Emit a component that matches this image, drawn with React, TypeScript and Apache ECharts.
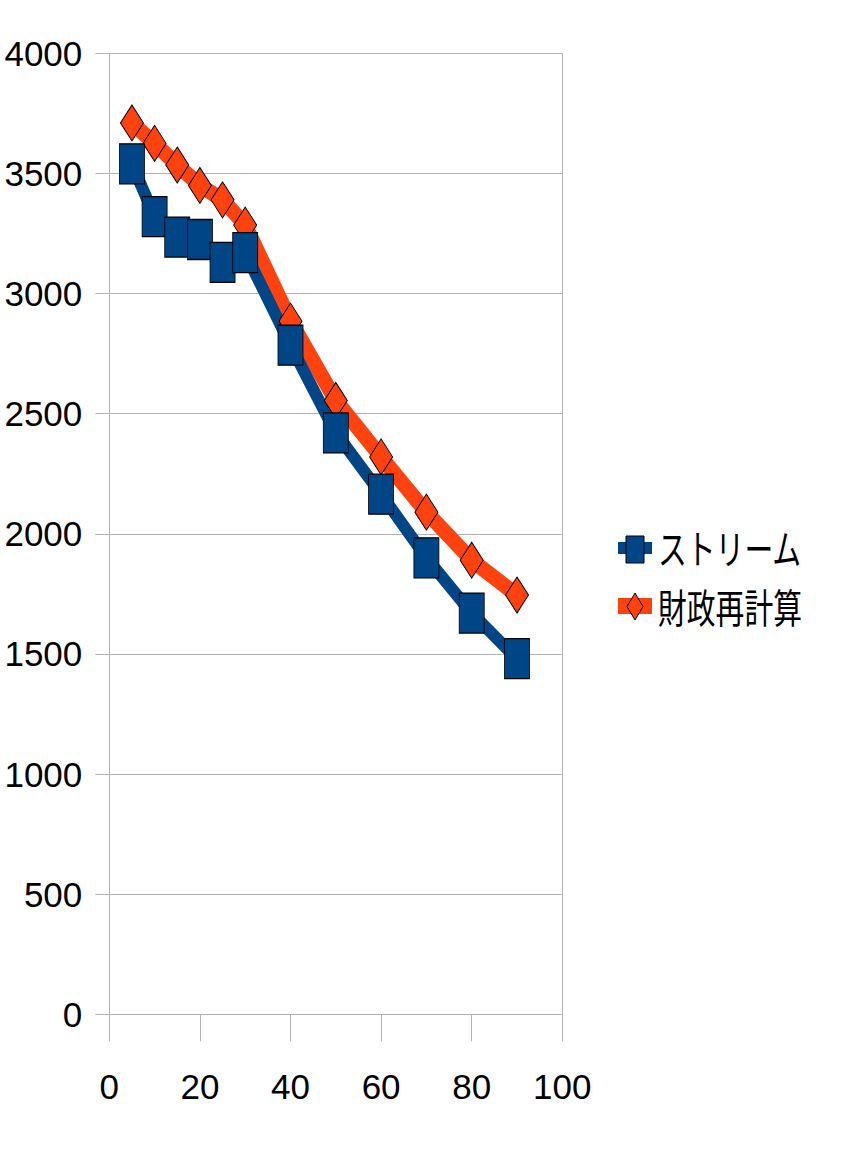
import React, { useEffect, useRef } from "react";
import * as echarts from "echarts";

const xValues = [5, 10, 15, 20, 25, 30, 40, 50, 60, 70, 80, 90];
const streamValues = [3540, 3320, 3235, 3225, 3130, 3170, 2785, 2420, 2165, 1900, 1670, 1480];
const recalcValues = [3710, 3625, 3535, 3450, 3390, 3285, 2885, 2555, 2320, 2090, 1890, 1745];
const seriesNames = ["ストリーム", "財政再計算"];
const xTicks = { min: 0, max: 100, interval: 20 };
const yTicks = { min: 0, max: 4000, interval: 500 };

const BLUE = "#004586";
const ORANGE = "#ff420e";
const GRID = "#b3b3b3";
const NUM_FONT = "'Liberation Sans', Arial, sans-serif";
const CJK_FONT = "'Noto Sans CJK JP', 'Noto Sans CJK SC', sans-serif";

export default function App() {
  const ref = useRef<HTMLDivElement>(null);
  useEffect(() => {
    if (!ref.current) return;
    const chart = echarts.init(ref.current, undefined, { renderer: "svg" });
    const pairs = (vals: number[]) => xValues.map((x, i) => [x, vals[i]]);
    const plain = (v: number) => String(v);
    chart.setOption({
      animation: false,
      backgroundColor: "#ffffff",
      grid: {
        left: 109.3,
        right: 287.7,
        top: 53.3,
        bottom: 154.7,
        containLabel: false,
        outerBoundsMode: "none",
      },
      xAxis: {
        type: "value",
        min: xTicks.min,
        max: xTicks.max,
        interval: xTicks.interval,
        axisLine: { show: true, lineStyle: { color: GRID, width: 1 } },
        axisTick: { show: true, inside: false, length: 27, lineStyle: { color: GRID, width: 1 } },
        splitLine: { show: false },
        axisLabel: { margin: 55, color: "#000", fontSize: 35, fontFamily: NUM_FONT, formatter: plain },
      },
      yAxis: [
        {
          type: "value",
          min: yTicks.min,
          max: yTicks.max,
          interval: yTicks.interval,
          axisLine: { show: true, lineStyle: { color: GRID, width: 1 } },
          axisTick: { show: true, inside: false, length: 14, lineStyle: { color: GRID, width: 1 } },
          splitLine: { show: true, lineStyle: { color: GRID, width: 1 } },
          axisLabel: { margin: 27, color: "#000", fontSize: 35, fontFamily: NUM_FONT, formatter: plain },
        },
        {
          type: "value",
          position: "right",
          min: yTicks.min,
          max: yTicks.max,
          interval: yTicks.interval,
          axisLine: { show: true, lineStyle: { color: GRID, width: 1 } },
          axisTick: { show: false },
          axisLabel: { show: false },
          splitLine: { show: false },
        },
      ],
      series: [
        {
          name: seriesNames[1],
          type: "line",
          data: pairs(recalcValues),
          symbol: "diamond",
          symbolSize: [23, 36],
          lineStyle: { color: ORANGE, width: 15 },
          itemStyle: { color: ORANGE, borderColor: "#000", borderWidth: 1 },
          emphasis: { disabled: true },
        },
        {
          name: seriesNames[0],
          type: "line",
          data: pairs(streamValues),
          symbol: "rect",
          symbolSize: [25, 40],
          lineStyle: { color: BLUE, width: 12 },
          itemStyle: { color: BLUE, borderColor: "#000", borderWidth: 1 },
          emphasis: { disabled: true },
        },
      ],
      graphic: [
        { type: "rect", shape: { x: 618, y: 542, width: 34, height: 12 }, style: { fill: BLUE } },
        {
          type: "rect",
          shape: { x: 626, y: 536, width: 18, height: 27 },
          style: { fill: BLUE, stroke: "#000", lineWidth: 1 },
        },
        {
          type: "text",
          x: 658,
          y: 547,
          scaleX: 0.72,
          style: {
            text: seriesNames[0],
            x: 0,
            y: 0,
            fill: "#000",
            fontSize: 40,
            fontFamily: CJK_FONT,
            align: "left",
            verticalAlign: "middle",
          },
        },
        { type: "rect", shape: { x: 618, y: 598, width: 34, height: 16 }, style: { fill: ORANGE } },
        {
          type: "polygon",
          shape: { points: [[635, 593], [643, 606.5], [635, 620], [627, 606.5]] },
          style: { fill: ORANGE, stroke: "#000", lineWidth: 1 },
        },
        {
          type: "text",
          x: 658,
          y: 606,
          scaleX: 0.72,
          style: {
            text: seriesNames[1],
            x: 0,
            y: 0,
            fill: "#000",
            fontSize: 40,
            fontFamily: CJK_FONT,
            align: "left",
            verticalAlign: "middle",
          },
        },
      ],
    });
    return () => chart.dispose();
  }, []);
  return (
    <div
      ref={ref}
      style={{ position: "absolute", left: 0, top: 0, width: 850, height: 1169, background: "#fff" }}
    />
  );
}
